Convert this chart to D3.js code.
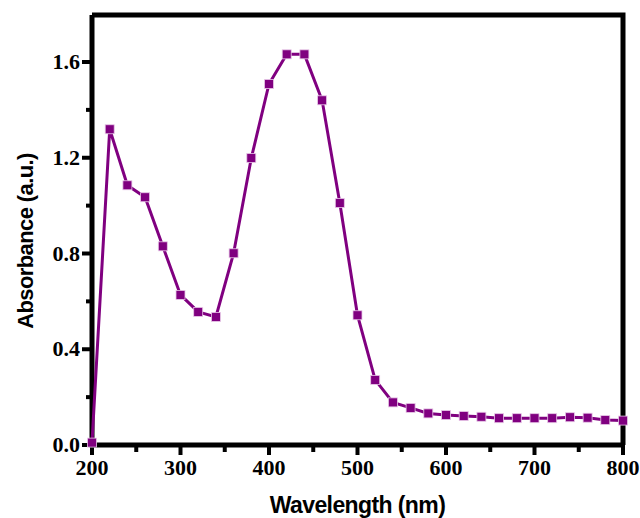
<!DOCTYPE html>
<html>
<head>
<meta charset="utf-8">
<script src="https://cdn.jsdelivr.net/npm/d3@7"></script>
<style>
  body { margin: 0; background: #fff; }
  svg { display: block; }
</style>
</head>
<body>
<div id="graph"></div>
<script>
// wavelengths (nm) and absorbance values
var wavelength = [200, 220, 240, 260, 280, 300, 320, 340, 360, 380, 400, 420, 440, 460, 480,
                  500, 520, 540, 560, 580, 600, 620, 640, 660, 680, 700, 720, 740, 760, 780, 800];
var absorbance = [0.01, 1.319, 1.085, 1.035, 0.830, 0.627, 0.556, 0.535, 0.801, 1.199, 1.508, 1.632, 1.632, 1.440, 1.011,
                  0.542, 0.272, 0.178, 0.155, 0.132, 0.125, 0.121, 0.118, 0.112, 0.112, 0.112, 0.112, 0.116, 0.114, 0.104, 0.102];
var xTicks = [200, 300, 400, 500, 600, 700, 800];
var xMinor = [250, 350, 450, 550, 650, 750];
var yTicks = [0.0, 0.4, 0.8, 1.2, 1.6];
var yMinor = [0.2, 0.6, 1.0, 1.4];

var W = 640, H = 518;
var mLeft = 92, mRight = 623, mTop = 15, mBottom = 445;
var purple = "#800080";

var vis = d3.select("#graph")
    .append("svg")
    .attr("width", W).attr("height", H);

var x = d3.scaleLinear().domain([200, 800]).range([mLeft, mRight]);
var y = d3.scaleLinear().domain([0, 1.6]).range([mBottom, 62]);

var points = wavelength.map(function (w, i) { return {w: w, a: absorbance[i]}; });

// frame (top + right)
vis.append("path")
    .attr("d", "M" + mLeft + "," + mTop + "H" + mRight + "V" + mBottom)
    .attr("fill", "none")
    .attr("stroke", "black")
    .attr("stroke-width", 5);

// bottom axis
var xAxis = vis.append("g").attr("transform", "translate(0," + mBottom + ")");
xAxis.selectAll("line.major").data(xTicks).enter().append("line")
    .attr("x1", function (d) { return x(d); }).attr("x2", function (d) { return x(d); })
    .attr("y1", 0).attr("y2", 10)
    .attr("stroke", "black").attr("stroke-width", 4);
xAxis.selectAll("line.minor").data(xMinor).enter().append("line")
    .attr("x1", function (d) { return x(d); }).attr("x2", function (d) { return x(d); })
    .attr("y1", 0).attr("y2", 7)
    .attr("stroke", "black").attr("stroke-width", 4);
xAxis.selectAll("text").data(xTicks).enter().append("text")
    .attr("x", function (d) { return x(d); })
    .attr("y", 30)
    .attr("text-anchor", "middle")
    .attr("font-family", "Liberation Serif, Times New Roman, serif")
    .attr("font-weight", "bold")
    .attr("font-size", 22)
    .text(function (d) { return d; });

// left axis
var yAxis = vis.append("g").attr("transform", "translate(" + mLeft + ",0)");
yAxis.selectAll("line.major").data(yTicks).enter().append("line")
    .attr("y1", function (d) { return y(d); }).attr("y2", function (d) { return y(d); })
    .attr("x1", 0).attr("x2", -10)
    .attr("stroke", "black").attr("stroke-width", 4);
yAxis.selectAll("line.minor").data(yMinor).enter().append("line")
    .attr("y1", function (d) { return y(d); }).attr("y2", function (d) { return y(d); })
    .attr("x1", 0).attr("x2", -6)
    .attr("stroke", "black").attr("stroke-width", 4);
yAxis.selectAll("text").data(yTicks).enter().append("text")
    .attr("x", -12)
    .attr("y", function (d) { return y(d) + 7; })
    .attr("text-anchor", "end")
    .attr("font-family", "Liberation Serif, Times New Roman, serif")
    .attr("font-weight", "bold")
    .attr("font-size", 22)
    .text(function (d) { return d.toFixed(1); });

// axis lines
vis.append("path")
    .attr("d", "M" + mLeft + "," + mTop + "V" + mBottom + "H" + mRight)
    .attr("fill", "none")
    .attr("stroke", "black")
    .attr("stroke-width", 5);

// data line
var line = d3.line()
    .x(function (d) { return x(d.w); })
    .y(function (d) { return y(d.a); });

vis.append("path")
    .datum(points)
    .attr("d", line)
    .attr("fill", "none")
    .attr("stroke", purple)
    .attr("stroke-width", 3);

vis.selectAll("rect.pt").data(points).enter().append("rect")
    .attr("class", "pt")
    .attr("x", function (d) { return x(d.w) - 4.5; })
    .attr("y", function (d) { return y(d.a) - 4.5; })
    .attr("width", 9).attr("height", 9)
    .attr("fill", purple)
    .attr("stroke", "#e8c8e8")
    .attr("stroke-width", 0.8);

// axis titles
vis.append("text")
    .attr("x", (mLeft + mRight) / 2)
    .attr("y", 513)
    .attr("text-anchor", "middle")
    .attr("font-family", "Liberation Sans, Arial, sans-serif")
    .attr("font-weight", "bold")
    .attr("font-size", 23)
    .attr("letter-spacing", -0.6)
    .text("Wavelength (nm)");

vis.append("text")
    .attr("transform", "translate(33,241) rotate(-90)")
    .attr("text-anchor", "middle")
    .attr("font-family", "Liberation Sans, Arial, sans-serif")
    .attr("font-weight", "bold")
    .attr("font-size", 22)
    .attr("letter-spacing", -0.6)
    .text("Absorbance (a.u.)");
</script>
</body>
</html>
